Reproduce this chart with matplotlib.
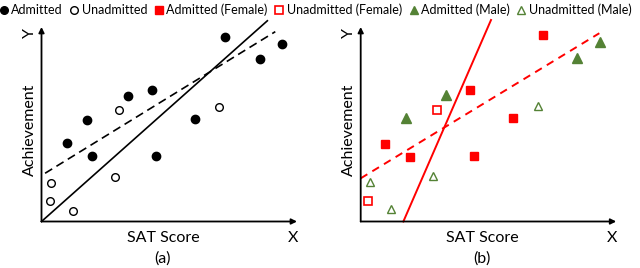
import matplotlib.pyplot as plt
from matplotlib.lines import Line2D

plt.rcParams['font.family'] = ['Lato', 'DejaVu Sans']

RED = '#ff0000'
GREEN = '#548235'

# panel (a): all applicants
adm_x = [0.99, 1.77, 1.99, 3.37, 4.34, 4.48, 6.02, 7.17, 8.55, 9.41]
adm_y = [4.02, 5.22, 3.35, 6.47, 6.76, 3.35, 5.29, 9.50, 8.34, 9.11]
unadm_x = [3.03, 6.96, 0.38, 0.33, 1.24, 2.88]
unadm_y = [5.73, 5.87, 1.96, 1.04, 0.56, 2.27]
a_solid_x, a_solid_y = [0.0, 8.84], [0.0, 10.32]
a_dash_x, a_dash_y = [0.14, 9.15], [2.48, 9.76]

# panel (b): by gender
f_adm_x = [4.28, 7.12, 5.95, 0.94, 1.94, 4.42]
f_adm_y = [6.76, 9.60, 5.31, 4.00, 3.33, 3.37]
m_adm_x = [3.34, 1.77, 8.47, 9.38]
m_adm_y = [6.50, 5.31, 8.39, 9.24]
f_unadm_x = [2.97, 0.27]
f_unadm_y = [5.73, 1.04]
m_unadm_x = [6.94, 0.36, 1.19, 2.84]
m_unadm_y = [5.94, 2.05, 0.63, 2.32]
b_solid_x, b_solid_y = [1.67, 5.10], [0.0, 10.36]
b_dash_x, b_dash_y = [0.0, 9.34], [2.22, 9.68]

W, H = 640, 268
fig = plt.figure(figsize=(W / 100, H / 100), dpi=100)


def make_axes(x0, panel):
    ax = fig.add_axes([x0 / W, (H - 221.5) / H, 255.5 / W, 194.5 / H])
    ax.set_xlim(0, 10)
    ax.set_ylim(0, 10)
    ax.axis('off')
    arrow = dict(arrowstyle='-|>', color='black', lw=1.3, mutation_scale=8, shrinkA=0, shrinkB=0)
    ax.annotate('', xy=(1.0, 0), xytext=(0, 0), xycoords='axes fraction', arrowprops=arrow)
    ax.annotate('', xy=(0, 1.0), xytext=(0, 0), xycoords='axes fraction', arrowprops=arrow)
    ax.text(-0.045, 0.47, 'Achievement', transform=ax.transAxes, rotation=90,
            ha='center', va='center', fontsize=11.5)
    ax.text(-0.045, 0.97, 'Y', transform=ax.transAxes, rotation=90,
            ha='center', va='center', fontsize=11.5)
    ax.text(0.475, -0.085, 'SAT Score', transform=ax.transAxes,
            ha='center', va='center', fontsize=11.5)
    ax.text(0.985, -0.085, 'X', transform=ax.transAxes,
            ha='center', va='center', fontsize=11.5)
    ax.text(0.475, -0.19, panel, transform=ax.transAxes,
            ha='center', va='center', fontsize=11.5)
    return ax


ms = 6
ax1 = make_axes(41.5, '(a)')
ax1.plot(a_solid_x, a_solid_y, color='black', lw=1.2, clip_on=False)
ax1.plot(a_dash_x, a_dash_y, color='black', lw=1.2, ls=(0, (5, 3)), clip_on=False)
ax1.plot(adm_x, adm_y, 'o', color='black', ms=ms, clip_on=False)
ax1.plot(unadm_x, unadm_y, 'o', mfc='white', mec='black', mew=1.0, ms=ms - 0.5, clip_on=False)

ax2 = make_axes(360.7, '(b)')
ax2.plot(b_solid_x, b_solid_y, color=RED, lw=1.4, clip_on=False)
ax2.plot(b_dash_x, b_dash_y, color=RED, lw=1.4, ls=(0, (4, 3)), clip_on=False)
ax2.plot(f_adm_x, f_adm_y, 's', color=RED, ms=ms, clip_on=False)
ax2.plot(m_adm_x, m_adm_y, '^', color=GREEN, ms=ms + 0.5, clip_on=False)
ax2.plot(f_unadm_x, f_unadm_y, 's', mfc='white', mec=RED, mew=1.2, ms=ms - 0.5, clip_on=False)
ax2.plot(m_unadm_x, m_unadm_y, '^', mfc='white', mec=GREEN, mew=1.0, ms=ms, clip_on=False)

handles = [
    Line2D([], [], ls='none', marker='o', color='black', ms=5.5),
    Line2D([], [], ls='none', marker='o', mfc='white', mec='black', ms=5.5),
    Line2D([], [], ls='none', marker='s', color=RED, ms=5.5),
    Line2D([], [], ls='none', marker='s', mfc='white', mec=RED, mew=1.2, ms=5.5),
    Line2D([], [], ls='none', marker='^', color=GREEN, ms=6),
    Line2D([], [], ls='none', marker='^', mfc='white', mec=GREEN, ms=6),
]
labels = ['Admitted', 'Unadmitted', 'Admitted (Female)', 'Unadmitted (Female)',
          'Admitted (Male)', 'Unadmitted (Male)']
fig.legend(handles, labels, loc='center left', bbox_to_anchor=(0.0, 1 - 10 / H), ncol=6,
           frameon=False, fontsize=9, handlelength=0.6, handletextpad=0.3,
           columnspacing=0.62, borderpad=0, borderaxespad=0)

fig.savefig('out.png', dpi=100)
